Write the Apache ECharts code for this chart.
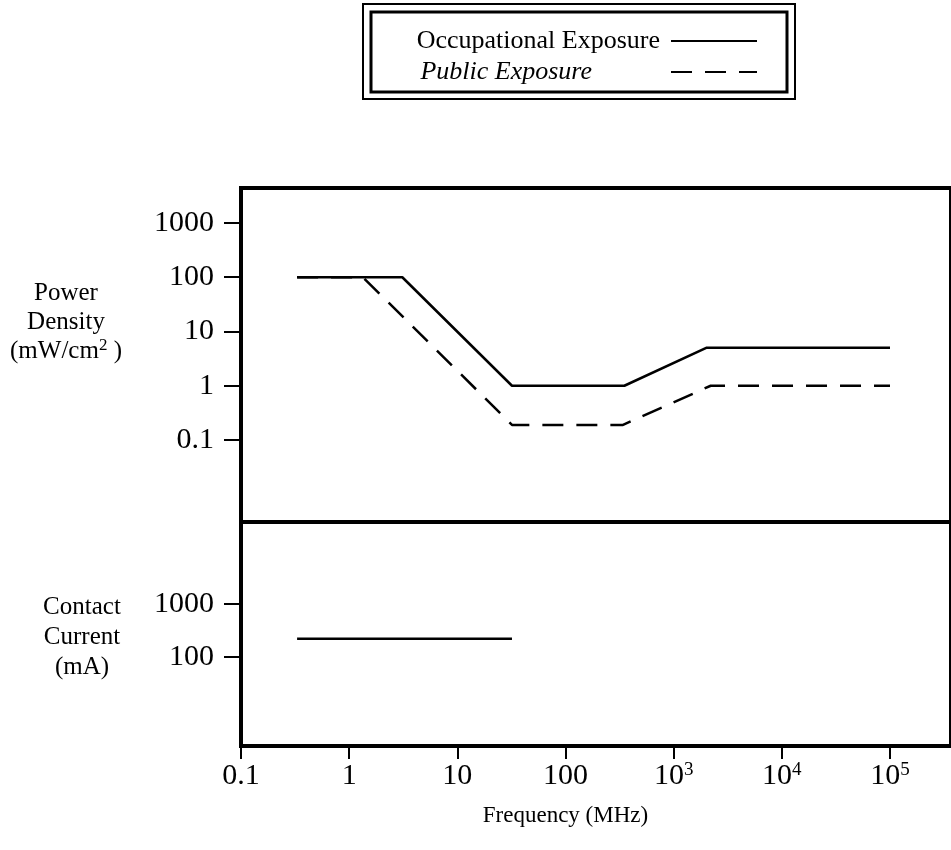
<!DOCTYPE html>
<html><head><meta charset="utf-8">
<script src="https://cdn.jsdelivr.net/npm/echarts@6/dist/echarts.min.js"></script>
<style>html,body{margin:0;padding:0;background:#fff}#c{width:951px;height:850px}</style>
</head><body><div id="c"></div>
<script>
const seriesNames = ['Occupational Exposure', 'Public Exposure', 'Contact Current'];
const occFreq = [0.33, 3.1, 32, 350, 2000, 100000];
const occPower = [100, 100, 1, 1, 5, 5];
const pubFreq = [0.33, 1.34, 32, 340, 2200, 100000];
const pubPower = [100, 100, 0.19, 0.19, 1, 1];
const contactFreq = [0.33, 32];
const contactCurrent = [220, 220];
const freqTickLabels = ['0.1', '1', '10', '100', '10{s|3}', '10{s|4}', '10{s|5}'];
const powerTickLabels = ['0.1', '1', '10', '100', '1000'];
const currentTickLabels = ['100', '1000'];

const FONT = 'Liberation Serif';
const zip = (xs, ys) => xs.map((x, i) => [x, ys[i]]);
const exp10 = v => Math.round(Math.log10(v));
const richLabel = t => t.indexOf('{s|') >= 0 ? '{b|' + t.replace('{s|', '}{s|') : '{b|' + t + '}';

const chart = echarts.init(document.getElementById('c'), null, {renderer: 'canvas'});
const hiddenAxis = gi => ({type: 'value', gridIndex: gi, show: false, min: 0, max: 1});

const option = {
  backgroundColor: '#fff',
  animation: false,
  grid: [
    {left: 241, top: 188, width: 790, height: 334, show: true, borderColor: '#000', borderWidth: 4, backgroundColor: 'transparent'},
    {left: 241, top: 522, width: 790, height: 224, show: true, borderColor: '#000', borderWidth: 4, backgroundColor: 'transparent'},
    {left: 241, top: 223, width: 649, height: 217},
    {left: 241, top: 604, width: 649, height: 53}
  ],
  xAxis: [
    hiddenAxis(0), hiddenAxis(1),
    {type: 'log', gridIndex: 2, min: 0.1, max: 100000, show: false},
    {type: 'log', gridIndex: 3, min: 0.1, max: 100000, position: 'bottom', offset: 89,
     axisLine: {show: false},
     axisTick: {show: true, inside: false, length: 13, lineStyle: {color: '#000', width: 2}},
     splitLine: {show: false},
     axisLabel: {margin: 15, color: '#000', fontFamily: FONT, fontSize: 30,
       formatter: v => richLabel(freqTickLabels[exp10(v) + 1]),
       rich: {b: {fontFamily: FONT, fontSize: 30, color: '#000'},
              s: {fontFamily: FONT, fontSize: 19, color: '#000', verticalAlign: 'top'}}},
     name: 'Frequency (MHz)', nameLocation: 'middle', nameGap: 58,
     nameTextStyle: {fontFamily: FONT, fontSize: 23, color: '#000'}}
  ],
  yAxis: [
    hiddenAxis(0), hiddenAxis(1),
    {type: 'log', gridIndex: 2, min: 0.1, max: 1000,
     axisLine: {show: false},
     axisTick: {show: true, inside: false, length: 17, lineStyle: {color: '#000', width: 2}},
     splitLine: {show: false},
     axisLabel: {margin: 27, color: '#000', fontFamily: FONT, fontSize: 30,
       formatter: v => powerTickLabels[exp10(v) + 1]}},
    {type: 'log', gridIndex: 3, min: 100, max: 1000,
     axisLine: {show: false},
     axisTick: {show: true, inside: false, length: 17, lineStyle: {color: '#000', width: 2}},
     splitLine: {show: false},
     axisLabel: {margin: 27, color: '#000', fontFamily: FONT, fontSize: 30,
       formatter: v => currentTickLabels[exp10(v) - 2]}}
  ],
  legend: [
    {data: [seriesNames[0]], right: 193, top: 28, orient: 'horizontal', align: 'right',
     selectedMode: false, itemWidth: 86, itemHeight: 14, padding: 0,
     itemStyle: {opacity: 0},
     textStyle: {fontFamily: FONT, fontSize: 26, color: '#000', padding: [0, 6, 0, 0]}},
    {data: [{name: seriesNames[1], textStyle: {fontStyle: 'italic'}}], right: 193, top: 59, orient: 'horizontal', align: 'right',
     selectedMode: false, itemWidth: 86, itemHeight: 14, padding: 0,
     itemStyle: {opacity: 0},
     textStyle: {fontFamily: FONT, fontSize: 26, color: '#000', padding: [0, 74, 0, 0]}}
  ],
  graphic: [
    {type: 'rect', shape: {x: 363, y: 4, width: 432, height: 95}, style: {fill: 'none', stroke: '#000', lineWidth: 2}},
    {type: 'rect', shape: {x: 371, y: 12, width: 416, height: 80}, style: {fill: 'none', stroke: '#000', lineWidth: 3}},
    {type: 'text', x: 66, y: 279, style: {text: 'Power\nDensity\n(mW/cm{s|2} )', fill: '#000', font: '25px "Liberation Serif"', align: 'center', lineHeight: 29,
      rich: {s: {fontSize: 17, fontFamily: FONT, verticalAlign: 'top', fill: '#000'}}}},
    {type: 'text', x: 82, y: 592, style: {text: 'Contact\nCurrent\n(mA)', fill: '#000', font: '25px "Liberation Serif"', align: 'center', lineHeight: 30}}
  ],
  series: [
    {name: seriesNames[0], type: 'line', xAxisIndex: 2, yAxisIndex: 2, data: zip(occFreq, occPower),
     symbol: 'none', clip: false, lineStyle: {color: '#000', width: 2.5, type: 'solid'}, itemStyle: {color: '#000'}},
    {name: seriesNames[1], type: 'line', xAxisIndex: 2, yAxisIndex: 2, data: zip(pubFreq, pubPower),
     symbol: 'none', clip: false, lineStyle: {color: '#000', width: 2.5, type: [21, 13]}, itemStyle: {color: '#000'}},
    {name: seriesNames[2], type: 'line', xAxisIndex: 3, yAxisIndex: 3, data: zip(contactFreq, contactCurrent),
     symbol: 'none', clip: false, lineStyle: {color: '#000', width: 2.5, type: 'solid'}, itemStyle: {color: '#000'}}
  ]
};
chart.setOption(option);
</script></body></html>
